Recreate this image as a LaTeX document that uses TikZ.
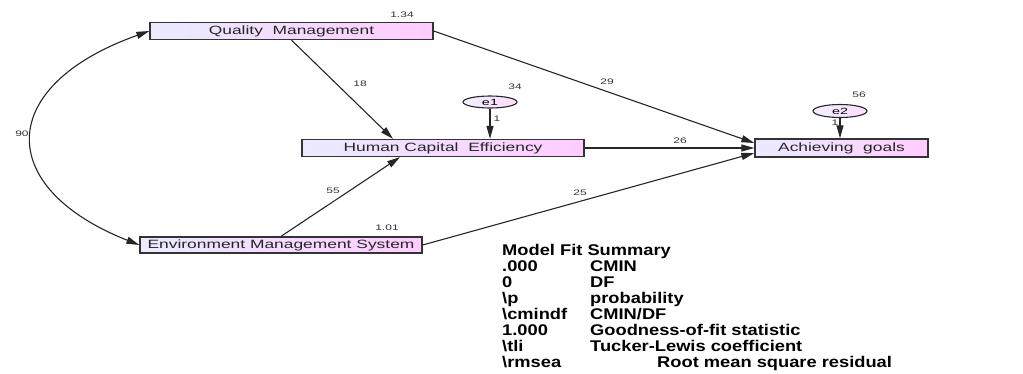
\documentclass[tikz,border=0pt]{standalone}
\usepackage{fontspec}
\setmainfont{Liberation Sans}
\usepackage{graphicx}
\usetikzlibrary{arrows.meta,shapes.geometric}
% horizontally widened text
\newcommand{\widetext}[2]{\scalebox{#1}[1]{#2}}
\newcommand{\vartext}[1]{\widetext{1.45}{#1}}
\newcommand{\coeftext}[1]{\widetext{1.5}{#1}}
\newcommand{\fittext}[1]{\widetext{1.18}{#1}}

\begin{document}
\begin{tikzpicture}[x=1pt,y=-1pt,
  var/.style={draw=black!80, line width=1.3pt, left color=blue!8!white,
    right color=magenta!20!white, minimum height=17pt, inner sep=0pt,
    font=\fontsize{12}{12}\selectfont, text=black!85},
  err/.style={ellipse, draw=black!85, line width=1.1pt, left color=blue!6!white,
    right color=magenta!14!white, minimum width=54pt, minimum height=12pt,
    inner sep=0pt, font=\fontsize{9}{9}\selectfont},
  pth/.style={line width=1.1pt, draw=black!85, -{Triangle[length=13pt,width=7pt]}},
  coef/.style={font=\fontsize{8}{8}\selectfont, text=black!80, inner sep=0pt},
  fitrow/.style={font=\bfseries\fontsize{15.5}{15.5}\selectfont, anchor=base west,
    inner sep=0pt, text=black}]
\useasboundingbox (0,0) rectangle (1023,373);

% observed variables
\node[var, minimum width=283pt] (qm)  at (291.5,31)  {\vartext{Quality\ \ Management}};
\node[var, minimum width=282pt] (hce) at (443,148)   {\vartext{Human Capital\ \ Efficiency}};
\node[var, minimum width=282pt, minimum height=16pt] (ems) at (281,245) {\vartext{Environment Management System}};
\node[var, minimum width=173pt, minimum height=18pt] (ag)  at (841.5,148) {\vartext{Achieving\ \ goals}};

% error terms
\node[err] (e1) at (490,102) {\widetext{1.6}{e1}};
\node[err, minimum height=13pt] (e2) at (840,111) {\widetext{1.6}{e2}};

% regression paths
\draw[pth] (qm.south) -- ([xshift=-50pt]hce.north);
\draw[pth] (ems.north) -- ([xshift=-43pt]hce.south);
\draw[pth] (qm.east) -- ([yshift=5pt]ag.west);
\draw[pth] (hce.east) -- (ag.west);
\draw[pth] (ems.east) -- ([yshift=-5pt]ag.west);
\draw[pth] (e1.south) -- (e1.south |- hce.north);
\draw[pth] (e2.south) -- (e2.south |- ag.north);

% covariance
\draw[line width=1.1pt, draw=black!85,
  {Triangle[length=13pt,width=7pt]}-{Triangle[length=13pt,width=7pt]}]
  (ems.west) .. controls (-5,188) and (-5,86) .. (qm.west);

% estimates
\node[coef] (vqm)  at (402,15)  {\coeftext{1.34}};
\node[coef] (vems) at (387,228) {\coeftext{1.01}};
\node[coef] (b18)  at (360,84)  {\coeftext{18}};
\node[coef] (b29)  at (607,82)  {\coeftext{29}};
\node[coef] (r34)  at (515,87)  {\coeftext{34}};
\node[coef] (r56)  at (859,95)  {\coeftext{56}};
\node[coef] (c90)  at (22,134)  {\coeftext{90}};
\node[coef] (b26)  at (680,141) {\coeftext{26}};
\node[coef] (b55)  at (333,191) {\coeftext{55}};
\node[coef] (b25)  at (580,193) {\coeftext{25}};
\node[coef] (w1)   at (497,119) {\coeftext{1}};
\node[coef] (w2)   at (835,123) {\coeftext{1}};

% model fit summary
\node[fitrow] (fh)  at (502,255) {\fittext{Model Fit Summary}};
\node[fitrow] (f1a) at (502,271) {\fittext{.000}};
\node[fitrow] (f1b) at (590,271) {\fittext{CMIN}};
\node[fitrow] (f2a) at (502,287) {\fittext{0}};
\node[fitrow] (f2b) at (590,287) {\fittext{DF}};
\node[fitrow] (f3a) at (502,303) {\fittext{\textbackslash p}};
\node[fitrow] (f3b) at (590,303) {\fittext{probability}};
\node[fitrow] (f4a) at (502,319) {\fittext{\textbackslash cmindf}};
\node[fitrow] (f4b) at (590,319) {\fittext{CMIN/DF}};
\node[fitrow] (f5a) at (502,335) {\fittext{1.000}};
\node[fitrow] (f5b) at (590,335) {\fittext{Goodness-of-fit statistic}};
\node[fitrow] (f6a) at (502,351) {\fittext{\textbackslash tli}};
\node[fitrow] (f6b) at (590,351) {\fittext{Tucker-Lewis coefficient}};
\node[fitrow] (f7a) at (502,367) {\fittext{\textbackslash rmsea}};
\node[fitrow] (f7b) at (657,367) {\fittext{Root mean square residual}};
\end{tikzpicture}
\end{document}
